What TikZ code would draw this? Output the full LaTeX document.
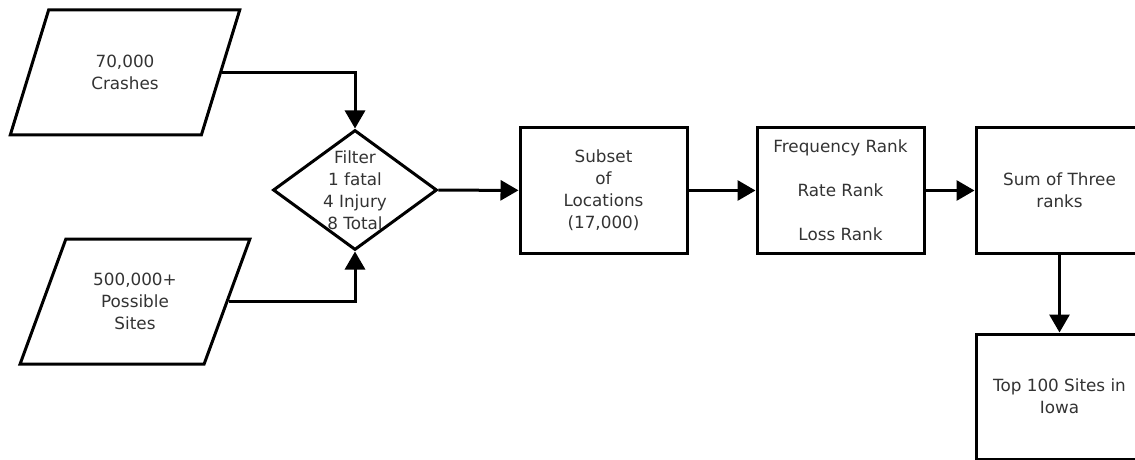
\documentclass[tikz,border=0pt]{standalone}
\usepackage{fontspec}
\setmainfont{DejaVu Sans}
\usepackage{tikz}
\usetikzlibrary{arrows.meta, positioning, shapes.geometric}

\begin{document}
\begin{tikzpicture}[x=0.5pt,y=-0.5pt,
    every node/.style={font=\fontsize{8.4}{11}\selectfont, text=black!80, align=center},
    databox/.style={trapezium, trapezium left angle=64, trapezium right angle=116,
        trapezium stretches, draw=black, text=black!80, line width=1.5pt, inner sep=0pt,
        minimum width=115pt, minimum height=62.5pt},
    filterbox/.style={diamond, draw=black, line width=1.5pt, inner sep=0pt,
        minimum width=82pt, minimum height=60pt},
    stepbox/.style={rectangle, draw=black, line width=1.5pt, inner sep=0pt,
        minimum width=83.5pt, minimum height=62.5pt},
    flow/.style={line width=1.5pt, -{Triangle[length=9pt,width=10pt]}}]
    \useasboundingbox (0,0) rectangle (1135,460);
    % 输入数据
    \node[databox] (crashes) at (125,72.5) {70,000\\Crashes};
    \node[databox] (sites) at (135,301.5) {500,000+\\Possible\\Sites};
    % 筛选条件
    \node[filterbox, label={[text=black!80]center:Filter\\1 fatal\\4 Injury\\8 Total}] (filter) at (355,190) {};
    % 各个步骤的框框
    \node[stepbox] (subset) at (603.5,190.5) {Subset\\of\\Locations\\(17,000)};
    \node[stepbox] (ranks) at (840.5,190.5) {Frequency Rank\\[11pt]Rate Rank\\[11pt]Loss Rank};
    \node[stepbox] (sum) at (1059.5,190.5) {Sum of Three\\ranks};
    \node[stepbox] (top) at (1059.5,396.5) {Top 100 Sites in\\Iowa};
    % 箭头
    \draw[flow] (crashes.east) -| (filter.north);
    \draw[flow] (sites.east) -| (filter.south);
    \draw[flow] (filter) -- (subset);
    \draw[flow] (subset) -- (ranks);
    \draw[flow] (ranks) -- (sum);
    \draw[flow] (sum) -- (top);
\end{tikzpicture}
\end{document}
